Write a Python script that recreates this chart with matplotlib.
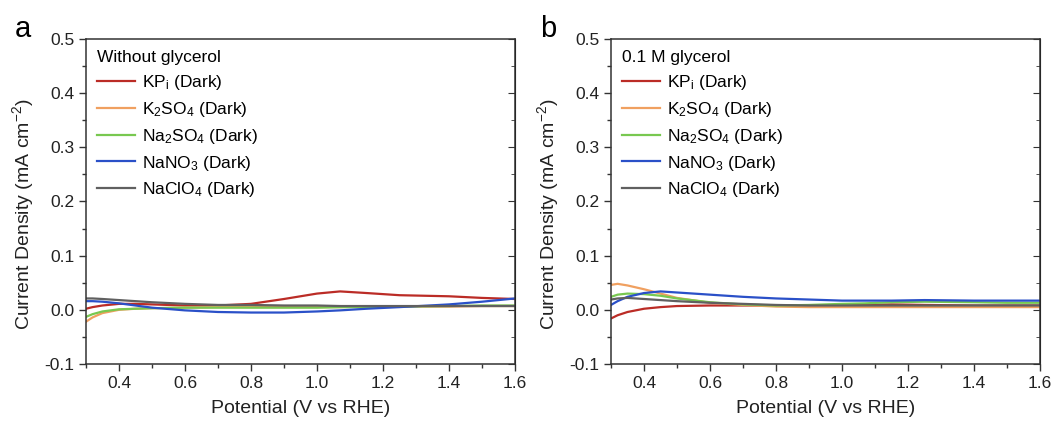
import matplotlib
matplotlib.use("Agg")
import matplotlib.pyplot as plt
from matplotlib.ticker import MultipleLocator

plt.rcParams['font.family'] = ['Liberation Sans', 'DejaVu Sans']
plt.rcParams['mathtext.fontset'] = 'custom'
plt.rcParams['mathtext.rm'] = 'Liberation Sans'
plt.rcParams['mathtext.it'] = 'Liberation Sans:italic'
plt.rcParams['axes.unicode_minus'] = False

labels = [r'KP$_\mathregular{i}$ (Dark)', r'K$_\mathregular{2}$SO$_\mathregular{4}$ (Dark)',
          r'Na$_\mathregular{2}$SO$_\mathregular{4}$ (Dark)', r'NaNO$_\mathregular{3}$ (Dark)',
          r'NaClO$_\mathregular{4}$ (Dark)']
colors = ['#bb2c26', '#f0a060', '#78c850', '#2a50c8', '#606060']

# potential (V vs RHE)
pot = [0.30, 0.32, 0.35, 0.40, 0.45, 0.50, 0.60, 0.70, 0.80, 0.90, 1.00, 1.07, 1.15, 1.25, 1.40, 1.50, 1.60]

# without glycerol
a_kpi   = [0.002, 0.005, 0.008, 0.011, 0.011, 0.010, 0.008, 0.008, 0.011, 0.020, 0.030, 0.034, 0.031, 0.027, 0.025, 0.022, 0.020]
a_k2so4 = [-0.022, -0.014, -0.006, 0.000, 0.002, 0.003, 0.004, 0.005, 0.005, 0.005, 0.005, 0.005, 0.006, 0.006, 0.006, 0.007, 0.007]
a_na2so4 = [-0.013, -0.008, -0.003, 0.001, 0.002, 0.003, 0.004, 0.004, 0.004, 0.004, 0.004, 0.005, 0.005, 0.006, 0.007, 0.008, 0.008]
a_nano3 = [0.016, 0.016, 0.015, 0.012, 0.008, 0.004, -0.001, -0.004, -0.005, -0.005, -0.003, -0.001, 0.002, 0.005, 0.010, 0.015, 0.021]
a_naclo4 = [0.021, 0.021, 0.020, 0.018, 0.016, 0.014, 0.011, 0.009, 0.009, 0.008, 0.008, 0.007, 0.007, 0.007, 0.007, 0.007, 0.007]

# 0.1 M glycerol
b_kpi   = [-0.016, -0.010, -0.004, 0.002, 0.005, 0.007, 0.008, 0.008, 0.008, 0.008, 0.008, 0.009, 0.010, 0.009, 0.008, 0.008, 0.008]
b_k2so4 = [0.046, 0.048, 0.045, 0.038, 0.030, 0.022, 0.013, 0.009, 0.006, 0.005, 0.005, 0.005, 0.005, 0.005, 0.005, 0.005, 0.005]
b_na2so4 = [0.024, 0.028, 0.030, 0.029, 0.026, 0.021, 0.014, 0.010, 0.008, 0.009, 0.011, 0.012, 0.014, 0.015, 0.014, 0.013, 0.013]
b_nano3 = [0.009, 0.016, 0.024, 0.031, 0.034, 0.032, 0.028, 0.024, 0.021, 0.019, 0.017, 0.017, 0.017, 0.018, 0.017, 0.017, 0.017]
b_naclo4 = [0.019, 0.021, 0.022, 0.020, 0.018, 0.016, 0.013, 0.011, 0.009, 0.008, 0.008, 0.008, 0.008, 0.008, 0.008, 0.008, 0.008]

panels = [
    ('a', 'Without glycerol', [a_kpi, a_k2so4, a_na2so4, a_nano3, a_naclo4]),
    ('b', '0.1 M glycerol', [b_kpi, b_k2so4, b_na2so4, b_nano3, b_naclo4]),
]

fig = plt.figure(figsize=(10.56, 4.21), dpi=100)
lefts = [0.0814, 0.5786]

for (letter, title, series), left in zip(panels, lefts):
    ax = fig.add_axes([left, 0.1354, 0.4063, 0.772])
    for y, c, lab in zip(series, colors, labels):
        ax.plot(pot, y, color=c, lw=1.6, label=lab)
    ax.set_xlim(0.3, 1.6)
    ax.set_ylim(-0.1, 0.5)
    ax.xaxis.set_major_locator(MultipleLocator(0.2))
    ax.xaxis.set_minor_locator(MultipleLocator(0.1))
    ax.yaxis.set_major_locator(MultipleLocator(0.1))
    ax.yaxis.set_minor_locator(MultipleLocator(0.05))
    ax.tick_params(which='both', direction='out', labelsize=12.5, width=1, colors='#333333')
    ax.tick_params(which='major', length=5)
    ax.tick_params(which='minor', length=3)
    ax.tick_params(labelcolor='#222222')
    for s in ax.spines.values():
        s.set_linewidth(1.1)
        s.set_color('#333333')
    ax.set_xlabel('Potential (V vs RHE)', fontsize=14, color='#222222')
    ax.set_ylabel('Current Density (mA cm$^{-2}$)', fontsize=14, color='#222222')
    ax.xaxis.set_label_coords(0.5, -0.112)
    ax.yaxis.set_label_coords(-0.117, 0.46)
    ax2 = ax.secondary_yaxis('right')
    ax2.yaxis.set_major_locator(MultipleLocator(0.1))
    ax2.yaxis.set_minor_locator(MultipleLocator(0.05))
    ax2.tick_params(which='both', direction='in', labelright=False, colors='#333333')
    ax2.tick_params(which='major', length=5)
    ax2.tick_params(which='minor', length=3)
    leg = ax.legend(loc='upper left', title=title, frameon=False, fontsize=12.5,
                    title_fontsize=12.5, handlelength=2.2, handletextpad=0.4,
                    labelspacing=0.45, borderaxespad=0.25, alignment='left')
    ax.text(-0.165, 1.03, letter, transform=ax.transAxes, fontsize=21, va='center', ha='left')

fig.savefig('out.png', dpi=100)
